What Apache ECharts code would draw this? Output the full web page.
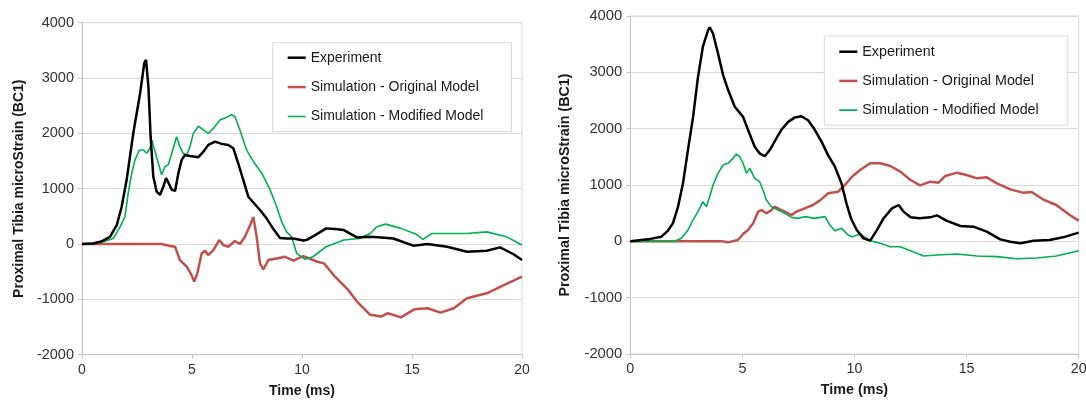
<!DOCTYPE html>
<html>
<head>
<meta charset="utf-8">
<script src="https://cdn.jsdelivr.net/npm/echarts@6/dist/echarts.min.js"></script>
<style>
  html, body { margin: 0; padding: 0; background: #fff; }
  #chart { width: 1086px; height: 401px; }
</style>
</head>
<body>
<div id="chart"></div>
<script>
// Series names and axis ranges
const seriesNames = ['Experiment', 'Simulation - Original Model', 'Simulation - Modified Model'];
const xTicks = [0, 5, 10, 15, 20];
const yTicks = [-2000, -1000, 0, 1000, 2000, 3000, 4000];

// Left panel: time (ms) and microstrain
const leftExpT = [0, 0.5, 0.82, 1.0, 1.27, 1.58, 1.8, 2.03, 2.33, 2.64, 2.83, 2.91, 3.02, 3.12, 3.24, 3.39, 3.55, 3.7, 3.82, 3.94, 4.08, 4.23, 4.38, 4.53, 4.68, 4.91, 5.29, 5.52, 5.74, 6.05, 6.35, 6.65, 6.88, 7.1, 7.33, 7.56, 7.79, 8.09, 8.39, 8.7, 9.0, 9.3, 9.6, 10.06, 10.2, 10.6, 11.1, 11.5, 11.9, 12.5, 13.1, 13.6, 14.15, 15.06, 15.7, 16.6, 17.5, 18.4, 19.0, 19.6, 20];
const leftExpV = [0, 10, 40, 70, 130, 340, 670, 1160, 2000, 2720, 3270, 3330, 2840, 1940, 1220, 950, 890, 1040, 1190, 1100, 980, 960, 1280, 1520, 1610, 1590, 1570, 1670, 1790, 1850, 1810, 1790, 1730, 1460, 1160, 855, 750, 615, 465, 270, 110, 100, 100, 65, 72, 160, 283, 270, 253, 120, 133, 120, 100, -30, 0, -48, -140, -120, -60, -180, -290];

const leftOrigT = [0, 3.62, 4.0, 4.23, 4.45, 4.76, 4.98, 5.1, 5.24, 5.44, 5.59, 5.74, 5.97, 6.24, 6.42, 6.65, 6.95, 7.18, 7.41, 7.64, 7.79, 7.94, 8.09, 8.24, 8.47, 8.85, 9.23, 9.61, 10.06, 10.7, 11.0, 11.5, 12.1, 12.5, 13.1, 13.6, 13.9, 14.5, 15.1, 15.7, 16.3, 16.9, 17.5, 18.4, 19.2, 20];
const leftOrigV = [0, 0, -36, -48, -290, -410, -560, -680, -530, -170, -120, -200, -110, 72, -18, -48, 54, 0, 130, 340, 490, 130, -350, -460, -290, -260, -230, -300, -217, -320, -350, -590, -830, -1040, -1280, -1310, -1250, -1325, -1180, -1160, -1240, -1160, -980, -890, -740, -590];

const leftModT = [0, 0.82, 1.42, 1.73, 1.95, 2.1, 2.26, 2.41, 2.61, 2.79, 2.94, 3.09, 3.17, 3.32, 3.47, 3.62, 3.77, 3.92, 4.08, 4.3, 4.45, 4.6, 4.76, 4.91, 5.06, 5.29, 5.52, 5.74, 5.97, 6.27, 6.58, 6.8, 6.95, 7.18, 7.48, 7.79, 8.17, 8.55, 8.85, 9.08, 9.3, 9.53, 9.76, 10.14, 10.5, 11.1, 11.9, 12.6, 13.1, 13.4, 13.8, 14.5, 15.2, 15.5, 15.9, 16.8, 17.5, 18.4, 19.3, 20];
const leftModV = [0, 25, 100, 310, 490, 915, 1280, 1520, 1700, 1700, 1640, 1730, 1880, 1670, 1460, 1250, 1400, 1430, 1640, 1940, 1760, 1640, 1610, 1760, 2000, 2130, 2060, 2000, 2090, 2240, 2290, 2340, 2300, 2060, 1700, 1490, 1280, 980, 675, 400, 220, 130, -170, -277, -230, -48, 72, 100, 190, 313, 360, 283, 175, 84, 190, 190, 190, 220, 130, -18];

// Right panel: time (ms) and microstrain
const rightExpT = [0, 0.79, 1.38, 1.68, 1.9, 2.13, 2.35, 2.57, 2.8, 3.02, 3.24, 3.47, 3.54, 3.69, 3.91, 4.14, 4.36, 4.66, 5.03, 5.25, 5.55, 5.77, 6.0, 6.22, 6.52, 6.74, 7.04, 7.34, 7.63, 7.93, 8.23, 8.53, 8.82, 9.12, 9.42, 9.64, 9.85, 10.1, 10.4, 10.7, 11.0, 11.3, 11.67, 11.97, 12.19, 12.5, 12.9, 13.38, 13.68, 14.1, 14.72, 15.3, 15.9, 16.5, 16.95, 17.4, 17.99, 18.7, 19.3, 20];
const rightExpV = [0, 35, 80, 190, 320, 615, 1030, 1620, 2210, 2920, 3460, 3750, 3800, 3690, 3340, 2950, 2690, 2390, 2210, 1980, 1680, 1560, 1510, 1620, 1830, 1980, 2120, 2200, 2220, 2150, 1980, 1770, 1530, 1330, 1030, 675, 400, 200, 53, 12, 200, 410, 585, 645, 527, 426, 410, 426, 460, 367, 272, 260, 172, 35, -6, -35, 12, 24, 71, 154];

const rightOrigT = [0, 4.06, 4.36, 4.8, 5.03, 5.25, 5.48, 5.7, 5.85, 6.07, 6.3, 6.44, 6.67, 6.89, 7.19, 7.41, 7.78, 8.15, 8.45, 8.82, 9.27, 9.57, 9.9, 10.25, 10.7, 11.15, 11.6, 12.04, 12.5, 12.93, 13.38, 13.75, 14.05, 14.57, 15.0, 15.46, 15.9, 16.35, 16.95, 17.5, 17.9, 18.4, 19.0, 19.6, 20];
const rightOrigV = [0, 0, -18, 24, 130, 200, 320, 527, 556, 497, 556, 615, 568, 527, 467, 527, 586, 645, 722, 852, 882, 1000, 1150, 1266, 1385, 1385, 1337, 1237, 1089, 994, 1059, 1041, 1160, 1219, 1178, 1118, 1136, 1030, 923, 864, 876, 746, 645, 467, 367];

const rightModT = [0, 1.98, 2.28, 2.57, 2.8, 3.02, 3.24, 3.39, 3.54, 3.69, 3.91, 4.14, 4.36, 4.58, 4.73, 4.88, 5.03, 5.18, 5.33, 5.55, 5.77, 5.92, 6.07, 6.3, 6.59, 6.89, 7.19, 7.48, 7.78, 8.23, 8.68, 8.9, 9.12, 9.42, 9.72, 9.9, 10.25, 10.7, 11.15, 11.6, 12.04, 12.5, 13.08, 13.68, 14.57, 15.46, 16.35, 17.24, 18.13, 19.0, 20];
const rightModV = [0, 0, 53, 200, 380, 527, 704, 615, 793, 1000, 1207, 1355, 1385, 1473, 1550, 1503, 1385, 1207, 1296, 1118, 1059, 911, 734, 615, 556, 497, 426, 408, 438, 408, 438, 290, 189, 231, 112, 83, 130, 12, -35, -95, -95, -166, -260, -243, -225, -260, -272, -308, -296, -260, -166];

const seriesColors = ['#000000', '#c0504d', '#00b050'];
const seriesWidths = [2.5, 2.5, 1.6];
// Legend keys: thick bars for the first two series, a thinner centred bar for the third
const legendIcons = ['rect', 'rect', 'path://M0,0H18V0.01H0Z M0,0.45H18V2.05H0Z M0,2.49H18V2.5H0Z'];

function pairs(ts, vs) { return ts.map((t, i) => [t, vs[i]]); }

const panels = [
  { data: [pairs(leftExpT, leftExpV), pairs(leftOrigT, leftOrigV), pairs(leftModT, leftModV)],
    grid: { left: 82, top: 22.7, width: 440, height: 332 }, font: 14, yGap: 56, legend: { left: 272.7, top: 42.7, pad: [7, 28, 7, 15], gap: 13.4 } },
  { data: [pairs(rightExpT, rightExpV), pairs(rightOrigT, rightOrigV), pairs(rightModT, rightModV)],
    grid: { left: 630.3, top: 16, width: 448.4, height: 338 }, font: 14.3, yGap: 58, legend: { left: 824.3, top: 36, pad: [7.7, 29, 7, 15], gap: 13.2 } }
];

const fontFamily = '"Liberation Sans", Arial, sans-serif';
const grids = [], xAxes = [], yAxes = [], series = [], legends = [];

panels.forEach((p, k) => {
  grids.push(Object.assign({
    show: true, borderColor: '#d9d9d9', borderWidth: 1, backgroundColor: 'transparent',
    containLabel: false, outerBoundsMode: 'none'
  }, p.grid));
  xAxes.push({
    type: 'value', gridIndex: k, min: xTicks[0], max: xTicks[xTicks.length - 1], interval: 5,
    name: 'Time (ms)', nameLocation: 'middle', nameGap: 29,
    nameTextStyle: { fontFamily, fontSize: p.font, fontWeight: 'bold', color: '#1a1a1a' },
    axisLine: { onZero: false, lineStyle: { color: '#c8c8c8', width: 1 } },
    axisTick: { show: true, length: 4, lineStyle: { color: '#c8c8c8' } },
    axisLabel: { fontFamily, fontSize: p.font, color: '#333', margin: 8, formatter: v => String(v) },
    splitLine: { show: false }
  });
  yAxes.push({
    type: 'value', gridIndex: k, min: yTicks[0], max: yTicks[yTicks.length - 1], interval: 1000,
    name: 'Proximal Tibia microStrain (BC1)', nameLocation: 'middle', nameGap: p.yGap,
    nameTextStyle: { fontFamily, fontSize: p.font, fontWeight: 'bold', color: '#1a1a1a' },
    axisLine: { show: true, lineStyle: { color: '#c8c8c8', width: 1 } },
    axisTick: { show: true, length: 4, lineStyle: { color: '#c8c8c8' } },
    axisLabel: { fontFamily, fontSize: p.font + 0.5, color: '#333', margin: 8, formatter: v => String(v) },
    splitLine: { show: true, lineStyle: { color: '#d9d9d9', width: 1 } }
  });
  p.data.forEach((d, i) => {
    series.push({
      name: seriesNames[i], type: 'line', xAxisIndex: k, yAxisIndex: k,
      data: d, symbol: 'none', showSymbol: false, smooth: false,
      lineStyle: { color: seriesColors[i], width: seriesWidths[i] },
      itemStyle: { color: seriesColors[i] },
      z: i === 1 ? 3 : (i === 2 ? 4 : 5)
    });
  });
  legends.push({
    orient: 'vertical', left: p.legend.left, top: p.legend.top,
    padding: p.legend.pad, itemGap: p.legend.gap, itemWidth: 18, itemHeight: 2.5,
    itemStyle: { borderWidth: 0 },
    backgroundColor: '#ffffff', borderColor: '#d9d9d9', borderWidth: 1,
    selectedMode: false,
    data: seriesNames.map((n, i) => ({ name: n, icon: legendIcons[i] })),
    textStyle: { fontFamily, fontSize: p.font, color: '#1a1a1a', lineHeight: 16 }
  });
});

const chart = echarts.init(document.getElementById('chart'), null, { renderer: 'canvas' });
chart.setOption({
  animation: false,
  backgroundColor: '#ffffff',
  grid: grids, xAxis: xAxes, yAxis: yAxes, legend: legends, series
});
</script>
</body>
</html>
